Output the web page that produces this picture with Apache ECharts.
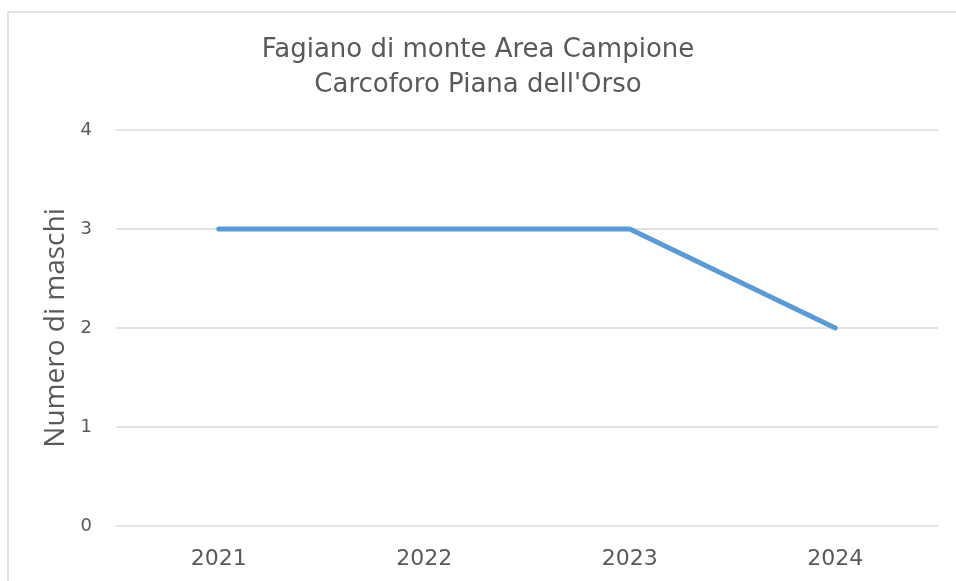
<!DOCTYPE html>
<html>
<head>
<meta charset="utf-8">
<script src="https://cdn.jsdelivr.net/npm/echarts@6/dist/echarts.min.js"></script>
<style>
  html, body { margin: 0; padding: 0; background: #fff; }
  #main { width: 956px; height: 581px; }
</style>
</head>
<body>
<div id="main"></div>
<script>
var anni = ['2021', '2022', '2023', '2024'];
var maschi = [3, 3, 3, 2];
var titolo = 'Fagiano di monte Area Campione\nCarcoforo Piana dell\'Orso';
var nomeAsseY = 'Numero di maschi';

var myChart = echarts.init(document.getElementById('main'));

var option = {
    backgroundColor: '#ffffff',
    title: {
        text: titolo,
        left: 'center',
        top: 33,
        padding: 0,
        textStyle: {
            fontFamily: 'DejaVu Sans',
            fontSize: 26,
            fontWeight: 'normal',
            color: '#595959',
            lineHeight: 35
        }
    },
    grid: {
        left: 116,
        right: 18,
        top: 130,
        bottom: 55
    },
    graphic: [{
        type: 'rect',
        silent: true,
        shape: { x: 8, y: 12, width: 1000, height: 1000 },
        style: { fill: 'none', stroke: '#d9d9d9', lineWidth: 1.5 }
    }],
    xAxis: {
        type: 'category',
        data: anni,
        boundaryGap: true,
        axisLine: { show: false },
        axisTick: { show: false },
        axisLabel: {
            fontFamily: 'DejaVu Sans',
            fontSize: 22,
            color: '#595959',
            margin: 22
        }
    },
    yAxis: {
        type: 'value',
        min: 0,
        max: 4,
        interval: 1,
        name: nomeAsseY,
        nameLocation: 'middle',
        nameRotate: 90,
        nameGap: 46,
        nameTextStyle: {
            fontFamily: 'Open Sans',
            fontSize: 28,
            color: '#595959'
        },
        axisLine: { show: false },
        axisTick: { show: false },
        axisLabel: {
            fontFamily: 'DejaVu Sans',
            fontSize: 18,
            color: '#595959',
            margin: 24
        },
        splitLine: {
            lineStyle: { color: '#d9d9d9', width: 1.5 }
        }
    },
    series: [{
        type: 'line',
        data: maschi,
        symbol: 'none',
        smooth: false,
        lineStyle: {
            color: '#5b9bd5',
            width: 5,
            cap: 'round',
            join: 'round'
        }
    }]
};
myChart.setOption(option);
</script>
</body>
</html>
